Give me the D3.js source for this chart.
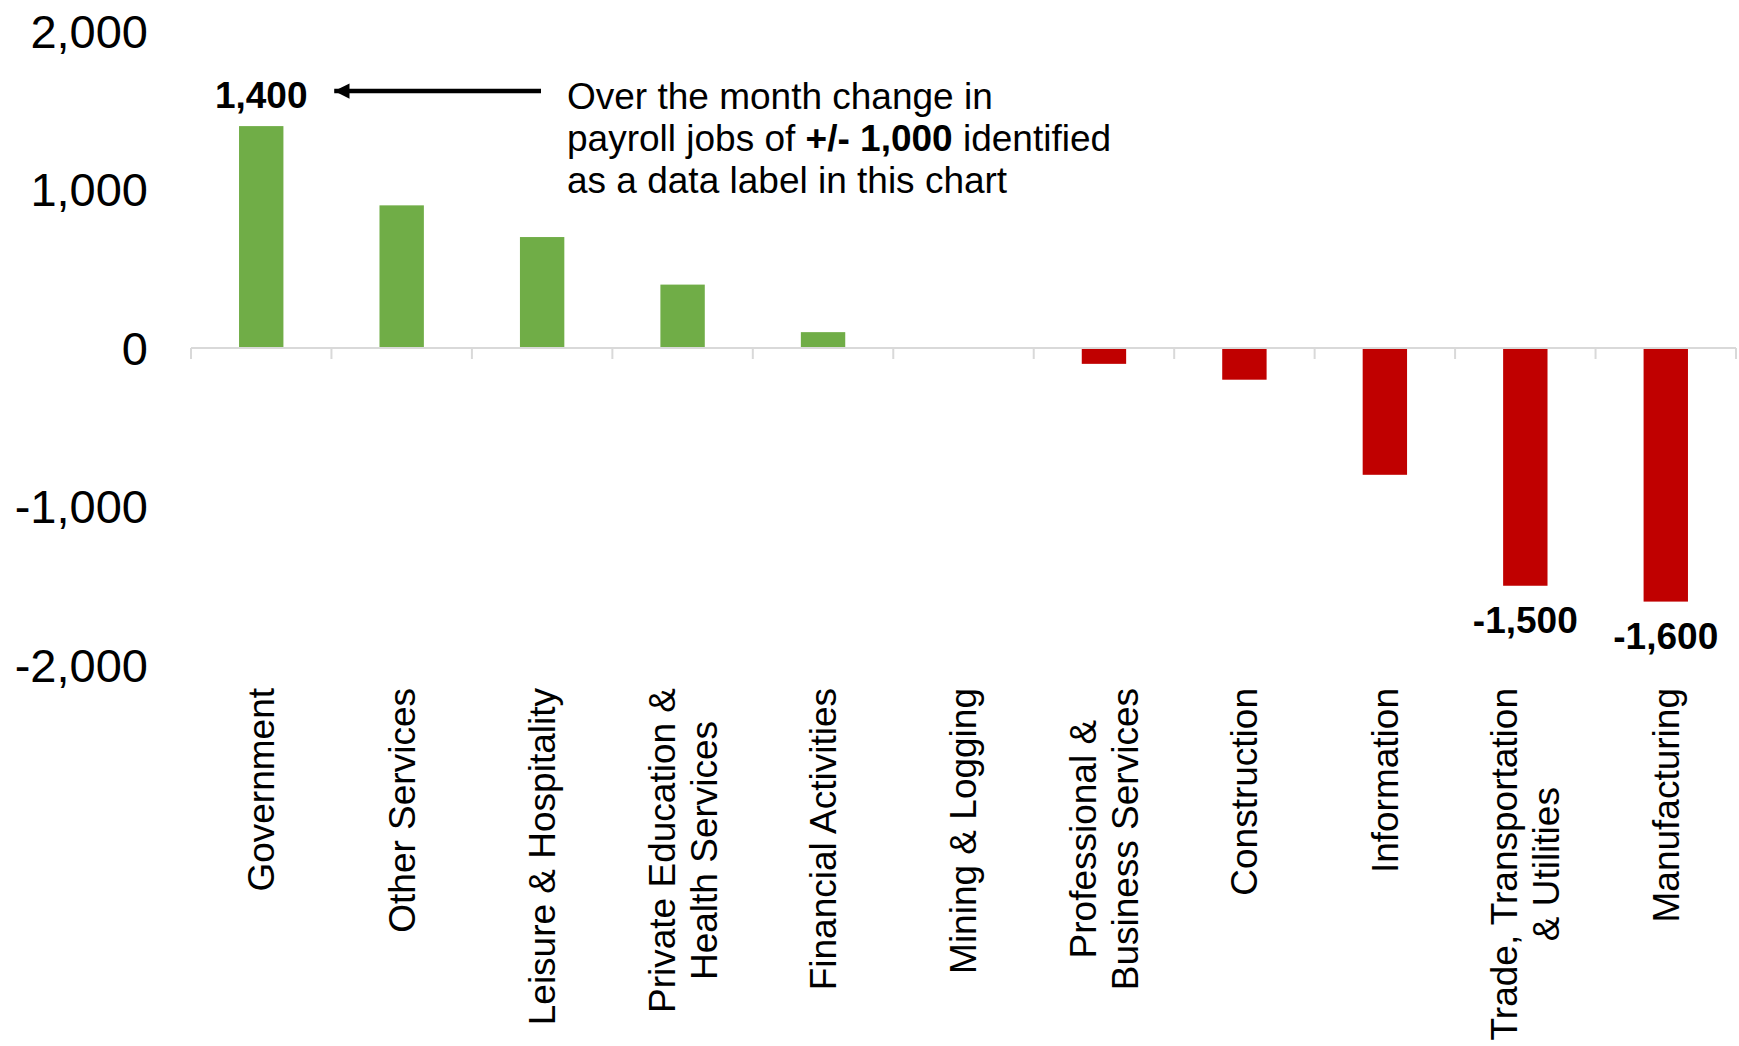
<!DOCTYPE html>
<html>
<head>
<meta charset="utf-8">
<script src="https://cdn.jsdelivr.net/npm/d3@7"></script>
<style>
  body { margin: 0; background: #fff; }
  text { font-family: "Liberation Sans", Arial, sans-serif; fill: #000; }
</style>
</head>
<body>
<svg width="1739" height="1046"></svg>
<script>
// categories, each one a list of label lines
const categories = [
  ["Government"],
  ["Other Services"],
  ["Leisure & Hospitality"],
  ["Private Education &", "Health Services"],
  ["Financial Activities"],
  ["Mining & Logging"],
  ["Professional &", "Business Services"],
  ["Construction"],
  ["Information"],
  ["Trade, Transportation", "& Utilities"],
  ["Manufacturing"]
]
const values = [1400, 900, 700, 400, 100, 0, -100, -200, -800, -1500, -1600]
const yTicks = [-2000, -1000, 0, 1000, 2000]
const noteLines = [
  [["Over the month change in", false]],
  [["payroll jobs of ", false], ["+/- 1,000", true], [" identified", false]],
  [["as a data label in this chart", false]]
]

const svg = d3.select("svg"),
    margin = {top: 31, right: 3, bottom: 381, left: 191},
    width = svg.attr("width") - margin.left - margin.right,
    height = svg.attr("height") - margin.top - margin.bottom

const names = categories.map(c => c.join(" "))
const data = names.map((n, i) => ({name: n, lines: categories[i], value: values[i]}))

const fmt = d3.formatLocale({decimal: ".", thousands: ",", grouping: [3], currency: ["$", ""], minus: "-"}).format(",")

const x = d3.scaleBand()
  .domain(names)
  .range([margin.left, margin.left + width])
  .paddingInner(0.684)
  .paddingOuter(0.342)
const y = d3.scaleLinear()
  .domain([-2000, 2000])
  .range([margin.top + height, margin.top])

// y axis: labels only
const yAxis = svg.append("g")
  .attr("transform", `translate(${margin.left},0)`)
  .call(d3.axisLeft(y).tickValues(yTicks).tickFormat(fmt).tickSize(0).tickPadding(43))
yAxis.select(".domain").remove()
yAxis.selectAll("text")
  .style("font-family", '"Liberation Sans", Arial, sans-serif')
  .style("font-size", "47px")
  .attr("fill", "#000")
  .attr("dy", "0.35em")

// bars
svg.append("g")
  .selectAll("rect")
  .data(data)
  .join("rect")
    .attr("x", d => x(d.name))
    .attr("width", x.bandwidth())
    .attr("y", d => y(Math.max(0, d.value)))
    .attr("height", d => Math.abs(y(d.value) - y(0)))
    .attr("fill", d => d.value >= 0 ? "#70AD47" : "#C00000")

// category axis line at zero, ticks at band edges
const edge = x.step() * x.paddingOuter()
const bounds = names.map(n => x(n) - edge).concat([x(names[names.length - 1]) - edge + x.step()])
svg.append("line")
  .attr("x1", bounds[0]).attr("x2", bounds[bounds.length - 1])
  .attr("y1", y(0)).attr("y2", y(0))
  .attr("stroke", "#d9d9d9").attr("stroke-width", 2)
svg.append("g")
  .selectAll("line")
  .data(bounds)
  .join("line")
    .attr("x1", d => d).attr("x2", d => d)
    .attr("y1", y(0)).attr("y2", y(0) + 11)
    .attr("stroke", "#d9d9d9").attr("stroke-width", 2)

// category labels, rotated, block ends at the top
const labelTop = 688, lineH = 42
const cat = svg.append("g")
  .selectAll("g")
  .data(data)
  .join("g")
    .attr("transform", d => `translate(${x(d.name) + x.bandwidth() / 2},${labelTop}) rotate(-90)`)
cat.each(function(d) {
  const g = d3.select(this)
  const n = d.lines.length
  const ts = d.lines.map((l, i) => g.append("text")
    .attr("y", (i - (n - 1) / 2) * lineH)
    .attr("dy", "0.35em")
    .attr("text-anchor", "middle")
    .style("font-size", "37px")
    .text(l))
  const maxLen = d3.max(ts, t => t.node().getComputedTextLength())
  ts.forEach(t => t.attr("x", -maxLen / 2))
})

// data labels for changes of +/- 1,000 or more
svg.append("g")
  .selectAll("text")
  .data(data.filter(d => Math.abs(d.value) >= 1000))
  .join("text")
    .attr("x", d => x(d.name) + x.bandwidth() / 2)
    .attr("y", d => d.value >= 0 ? y(d.value) - 18.5 : y(d.value) + 47.5)
    .attr("text-anchor", "middle")
    .style("font-size", "37px")
    .style("font-weight", "bold")
    .text(d => fmt(d.value))

// annotation note with arrow to the biggest gain
const first = data[0]
const arrowY = y(first.value) - 35
const noteX = 567
svg.append("defs").append("marker")
  .attr("id", "head")
  .attr("viewBox", "0 0 10 10")
  .attr("refX", 10).attr("refY", 5)
  .attr("markerWidth", 3.4).attr("markerHeight", 3.4)
  .attr("markerUnits", "strokeWidth")
  .attr("orient", "auto")
  .append("path")
    .attr("d", "M0,0 L10,5 L0,10 Z")
    .attr("fill", "#000")
svg.append("line")
  .attr("x1", noteX - 26).attr("x2", x(first.name) + x.bandwidth() / 2 + 73)
  .attr("y1", arrowY).attr("y2", arrowY)
  .attr("stroke", "#000").attr("stroke-width", 4.5)
  .attr("marker-end", "url(#head)")

const note = svg.append("text")
  .style("font-size", "37px")
noteLines.forEach((parts, i) => {
  parts.forEach((p, j) => {
    const t = note.append("tspan")
      .style("font-weight", p[1] ? "bold" : "normal")
      .text(p[0])
    if (j === 0) t.attr("x", noteX).attr("y", 108.5 + i * lineH)
  })
})
</script>
</body>
</html>
